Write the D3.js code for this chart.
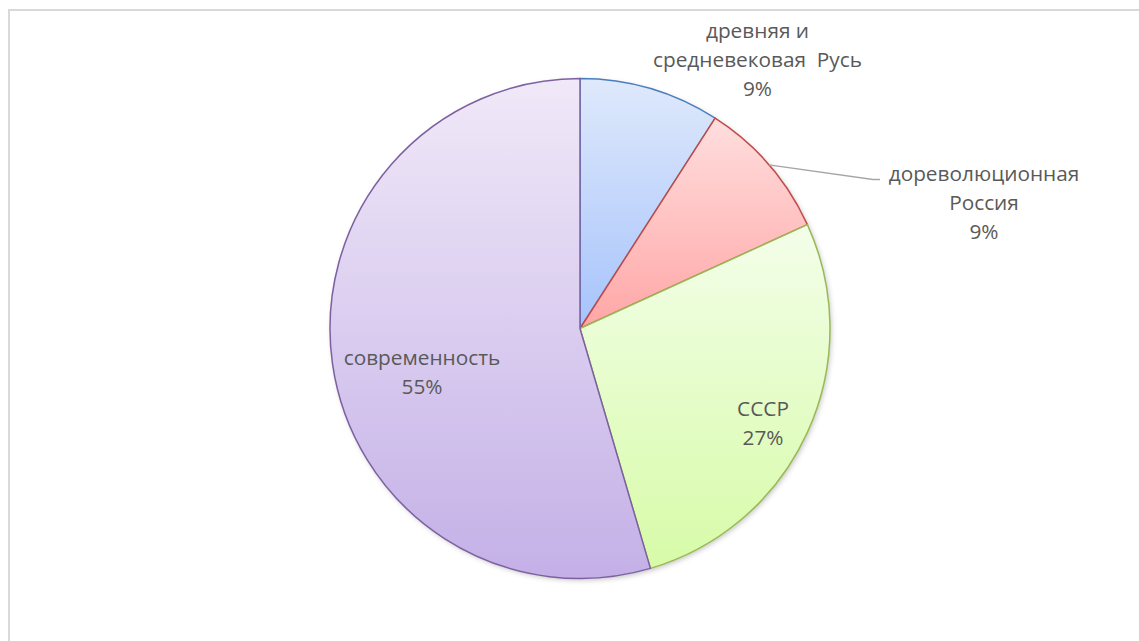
<!DOCTYPE html>
<html><head><meta charset="utf-8">
<script src="https://cdn.jsdelivr.net/npm/d3@7"></script>
<style>html,body{margin:0;padding:0;background:#fff;overflow:hidden}</style>
</head><body>
<svg id="chart" width="1139" height="641"></svg>
<script>
// ---- data ----
const categories = ["древняя и средневековая Русь", "дореволюционная Россия", "СССР", "современность"];
const labelLines = [["древняя и", "средневековая  Русь"], ["дореволюционная", "Россия"], ["СССР"], ["современность"]];
const values = [1, 1, 3, 6];

// ---- styling / layout (not data) ----
const fillTop = ["#dfe9fc", "#ffdede", "#f3fee9", "#f0e9f8"];
const fillBottom = ["#a6c3fb", "#ffa6a6", "#d7fba8", "#c4b0e7"];
const strokes = ["#4a7ebb", "#be4b48", "#98b954", "#7d60a0"];
// label centre offsets relative to pie centre, in radius units
const labelPos = [[0.71, -1.076], [1.616, -0.504], [0.732, 0.38], [-0.632, 0.176]];

const W = 1139, H = 641;
const cx = 580, cy = 328.5, R = 250;
const svg = d3.select("#chart");

svg.append("rect").attr("x", 9).attr("y", 10).attr("width", W + 20).attr("height", H + 20)
  .attr("fill", "#fff").attr("stroke", "#d9d9d9").attr("stroke-width", 2);

const defs = svg.append("defs");
values.forEach((v, i) => {
  const g = defs.append("linearGradient").attr("id", "g" + i)
    .attr("x1", 0).attr("y1", 0).attr("x2", 0).attr("y2", 1);
  g.append("stop").attr("offset", "0%").attr("stop-color", fillTop[i]);
  g.append("stop").attr("offset", "100%").attr("stop-color", fillBottom[i]);
});
const f = defs.append("filter").attr("id", "sh").attr("x", "-10%").attr("y", "-10%").attr("width", "120%").attr("height", "120%");
f.append("feDropShadow").attr("dx", 1.5).attr("dy", 2).attr("stdDeviation", 2.5)
  .attr("flood-color", "#000").attr("flood-opacity", 0.22);

const pie = d3.pie().sort(null).value(d => d)(values);
const arc = d3.arc().innerRadius(0).outerRadius(R);
const total = d3.sum(values);

const gPie = svg.append("g").attr("transform", `translate(${cx},${cy})`);
gPie.append("circle").attr("r", R).attr("fill", "#fff").attr("filter", "url(#sh)");
gPie.selectAll("path.slice").data(pie).join("path").attr("class", "slice")
  .attr("d", arc)
  .attr("fill", (d, i) => `url(#g${i})`)
  .attr("stroke", (d, i) => strokes[i])
  .attr("stroke-width", 1.5)
  .attr("stroke-linejoin", "round");

// leader line for label 2
(function () {
  const d = pie[1];
  const a = d.startAngle + (d.endAngle - d.startAngle) * 0.5;
  const p0 = [Math.sin(a) * R, -Math.cos(a) * R];
  const lx = labelPos[1][0] * R, ly = labelPos[1][1] * R;
  gPie.append("path")
    .attr("d", d3.line()([p0, [lx - 111, ly - 23], [lx - 104, ly - 23]]))
    .attr("fill", "none").attr("stroke", "#a6a6a6").attr("stroke-width", 1.3);
})();

const lh = 28.8;
pie.forEach((d, i) => {
  const lines = labelLines[i].concat([Math.round(values[i] / total * 100) + "%"]);
  const lx = labelPos[i][0] * R, ly = labelPos[i][1] * R;
  const t = gPie.append("text")
    .attr("text-anchor", "middle")
    .attr("font-family", "'Open Sans', 'Noto Sans', sans-serif")
    .attr("font-size", 20.8)
    .attr("fill", "#595959")
    .style("white-space", "pre");
  const n = lines.length;
  lines.forEach((s, k) => {
    t.append("tspan").attr("x", lx)
      .attr("y", ly + (k - (n - 1) / 2) * lh)
      .attr("dy", "0.35em").text(s);
  });
});
</script>
</body></html>
